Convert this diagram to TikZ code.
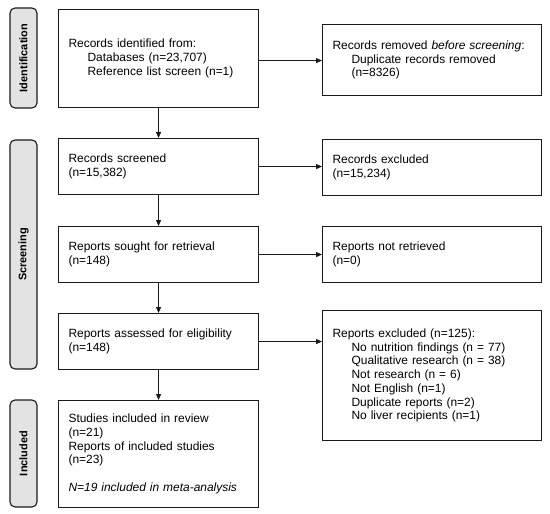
\documentclass[tikz,border=0pt]{standalone}
\usepackage{fontspec}
\setmainfont{Liberation Sans}
\usetikzlibrary{arrows.meta,positioning}
\definecolor{phasegrey}{HTML}{E3E3E3}
\definecolor{boxblack}{HTML}{1A1A1A}
\newcommand{\indentitem}{\hspace*{19bp}}

\begin{document}
\begin{tikzpicture}[
  x=1bp, y=-1bp,
  >={Triangle[length=6bp,width=5bp]},
  flowbox/.style={
    draw=boxblack,
    fill=white,
    line width=1.1bp,
    inner xsep=10bp,
    inner ysep=3bp,
    align=left,
    anchor=north west,
    font=\fontsize{12}{13.8}\selectfont
  },
  leftbox/.style={flowbox, text width=180bp},
  rightbox/.style={flowbox, text width=199bp},
  phasetab/.style={
    draw=boxblack,
    fill=phasegrey,
    rounded corners=5bp,
    line width=1.1bp,
    rotate=90,
    minimum height=27bp,
    inner sep=0pt,
    font=\bfseries\fontsize{11}{13}\selectfont
  },
  flowarrow/.style={->, line width=1bp, draw=boxblack}
]
  \useasboundingbox (0,0) rectangle (550,514);

  % Phase tabs on the left margin
  \node[phasetab, minimum width=100bp] (tab_ident) at (23.5,58) {Identification};
  \node[phasetab, minimum width=229bp] (tab_screen) at (23.5,254.5) {Screening};
  \node[phasetab, minimum width=107bp] (tab_incl) at (23.5,453.5) {Included};

  % Main column
  \node[leftbox, minimum height=98bp] (ident_box) at (58,9) {
    Records identified from:\\
    \indentitem Databases (n=23,707)\\
    \indentitem Reference list screen (n=1)
  };
  \node[leftbox, minimum height=56bp] (screened_box) at (58,138) {
    Records screened\\
    (n=15,382)
  };
  \node[leftbox, minimum height=56bp] (sought_box) at (58,226) {
    Reports sought for retrieval\\
    (n=148)
  };
  \node[leftbox, minimum height=56bp] (assessed_box) at (58,313) {
    Reports assessed for eligibility\\
    (n=148)
  };
  \node[leftbox, minimum height=107bp] (included_box) at (58,400) {
    Studies included in review\\
    (n=21)\\
    Reports of included studies\\
    (n=23)\\[13.8bp]
    \textit{N=19 included in meta-analysis}
  };

  % Side column (removals and exclusions)
  \node[rightbox, minimum height=71bp] (removed_box) at (322,24) {
    Records removed \textit{before screening}:\\
    \indentitem Duplicate records removed\\
    \indentitem (n=8326)\\[4bp]
  };
  \node[rightbox, minimum height=56bp] (excluded_box) at (322,139) {
    Records excluded\\
    (n=15,234)
  };
  \node[rightbox, minimum height=56bp] (notretr_box) at (322,226) {
    Reports not retrieved\\
    (n=0)
  };
  \node[rightbox, minimum height=130bp] (reportsexcl_box) at (322,310) {
    Reports excluded (n=125):\\
    \indentitem No nutrition findings (n = 77)\\
    \indentitem Qualitative research (n = 38)\\
    \indentitem Not research (n = 6)\\
    \indentitem Not English (n=1)\\
    \indentitem Duplicate reports (n=2)\\
    \indentitem No liver recipients (n=1)
  };

  % Downward flow
  \draw[flowarrow] (ident_box.south) -- (screened_box.north);
  \draw[flowarrow] (screened_box.south) -- (sought_box.north);
  \draw[flowarrow] (sought_box.south) -- (assessed_box.north);
  \draw[flowarrow] (assessed_box.south) -- (included_box.north);

  % Sideways flow
  \draw[flowarrow] ([yshift=-2bp]ident_box.east) -- ([yshift=-2bp]ident_box.east -| removed_box.west);
  \draw[flowarrow] (screened_box.east) -- (screened_box.east -| excluded_box.west);
  \draw[flowarrow] (sought_box.east) -- (sought_box.east -| notretr_box.west);
  \draw[flowarrow] (assessed_box.east) -- (assessed_box.east -| reportsexcl_box.west);

\end{tikzpicture}
\end{document}
